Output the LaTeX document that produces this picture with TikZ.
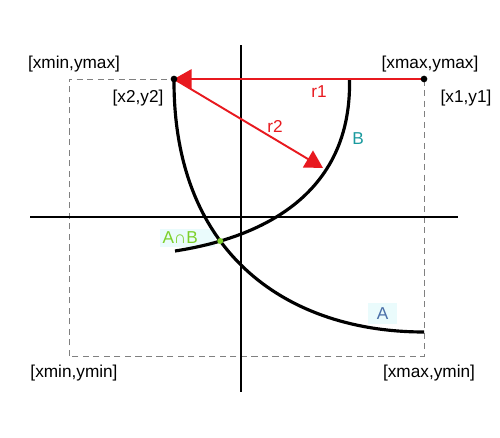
\documentclass[tikz,border=0pt]{standalone}
\usepackage{fontspec}
\setmainfont{Liberation Sans}
\usetikzlibrary{arrows.meta,intersections}
\definecolor{arrowred}{HTML}{E8191F}
\definecolor{labelteal}{HTML}{1A9A9E}
\definecolor{labelblue}{HTML}{4A6FA8}
\definecolor{cutgreen}{HTML}{7CD02A}
\definecolor{paleblue}{HTML}{EAFBFC}
\begin{document}
\begin{tikzpicture}[font=\fontsize{9.8}{12}\selectfont,
  radiusarrow/.style={draw=arrowred,line width=1.1pt,-{Triangle[length=10pt,width=11pt]}},
  circlearc/.style={draw,line width=1.8pt},
  axisline/.style={draw,line width=1.1pt},
  dot/.style={circle,fill,inner sep=0pt,minimum size=3.8pt},
  boxlabel/.style={fill=paleblue,inner sep=1.5pt}]
\useasboundingbox (0,0) rectangle (10,8.76);
\coordinate (p1) at (8.48,7.18);
\coordinate (p2) at (3.48,7.18);
\coordinate (lowleft) at (1.38,1.64);
\coordinate (ytop) at (4.82,7.86);
\coordinate (ybot) at (4.82,0.92);
\coordinate (xleft) at (0.6,4.42);
\coordinate (xright) at (9.16,4.42);
\coordinate (aend) at (8.48,2.12);
\coordinate (btop) at (6.99,7.17);
\coordinate (bend) at (3.50,3.74);
\coordinate (r2end) at (6.46,5.40);

\draw[gray,line width=0.5pt,dash pattern=on 3.5pt off 2.5pt] (lowleft) rectangle (p1);
\node[boxlabel,text=cutgreen,text width=1cm,align=left] (AB) at (3.75,4.0) {A∩B};
\node[boxlabel,text=labelblue,minimum width=0.58cm,minimum height=0.42cm] (A) at (7.65,2.48) {A};
\path[axisline] (ybot) -- (ytop);
\path[axisline] (xleft) -- (xright);

\path[circlearc,name path=arcA] (p2) .. controls (3.46,3.60) and (5.84,2.12) .. (aend);
\path[circlearc,name path=arcB] (btop) .. controls (7.04,4.68) and (4.93,3.96) .. (bend);
\path[name intersections={of=arcA and arcB,by=ab}];

\path[radiusarrow] (p1) -- (p2);
\path[radiusarrow] (p2) -- (r2end);

\node[dot] (p1dot) at (p1) {};
\node[dot] (p2dot) at (p2) {};
\node[dot,fill=cutgreen,minimum size=3.4pt] (abdot) at (ab) {};

\node (xminymax) at (1.48,7.48) {[xmin,ymax]};
\node (xmaxymax) at (8.6,7.48) {[xmax,ymax]};
\node (x2y2) at (2.76,6.8) {[x2,y2]};
\node (x1y1) at (9.32,6.8) {[x1,y1]};
\node[text=arrowred] (r1) at (6.38,6.92) {r1};
\node[text=arrowred] (r2) at (5.5,6.24) {r2};
\node[text=labelteal] (B) at (7.16,5.98) {B};
\node (xminymin) at (1.48,1.3) {[xmin,ymin]};
\node (xmaxymin) at (8.58,1.3) {[xmax,ymin]};
\end{tikzpicture}
\end{document}
